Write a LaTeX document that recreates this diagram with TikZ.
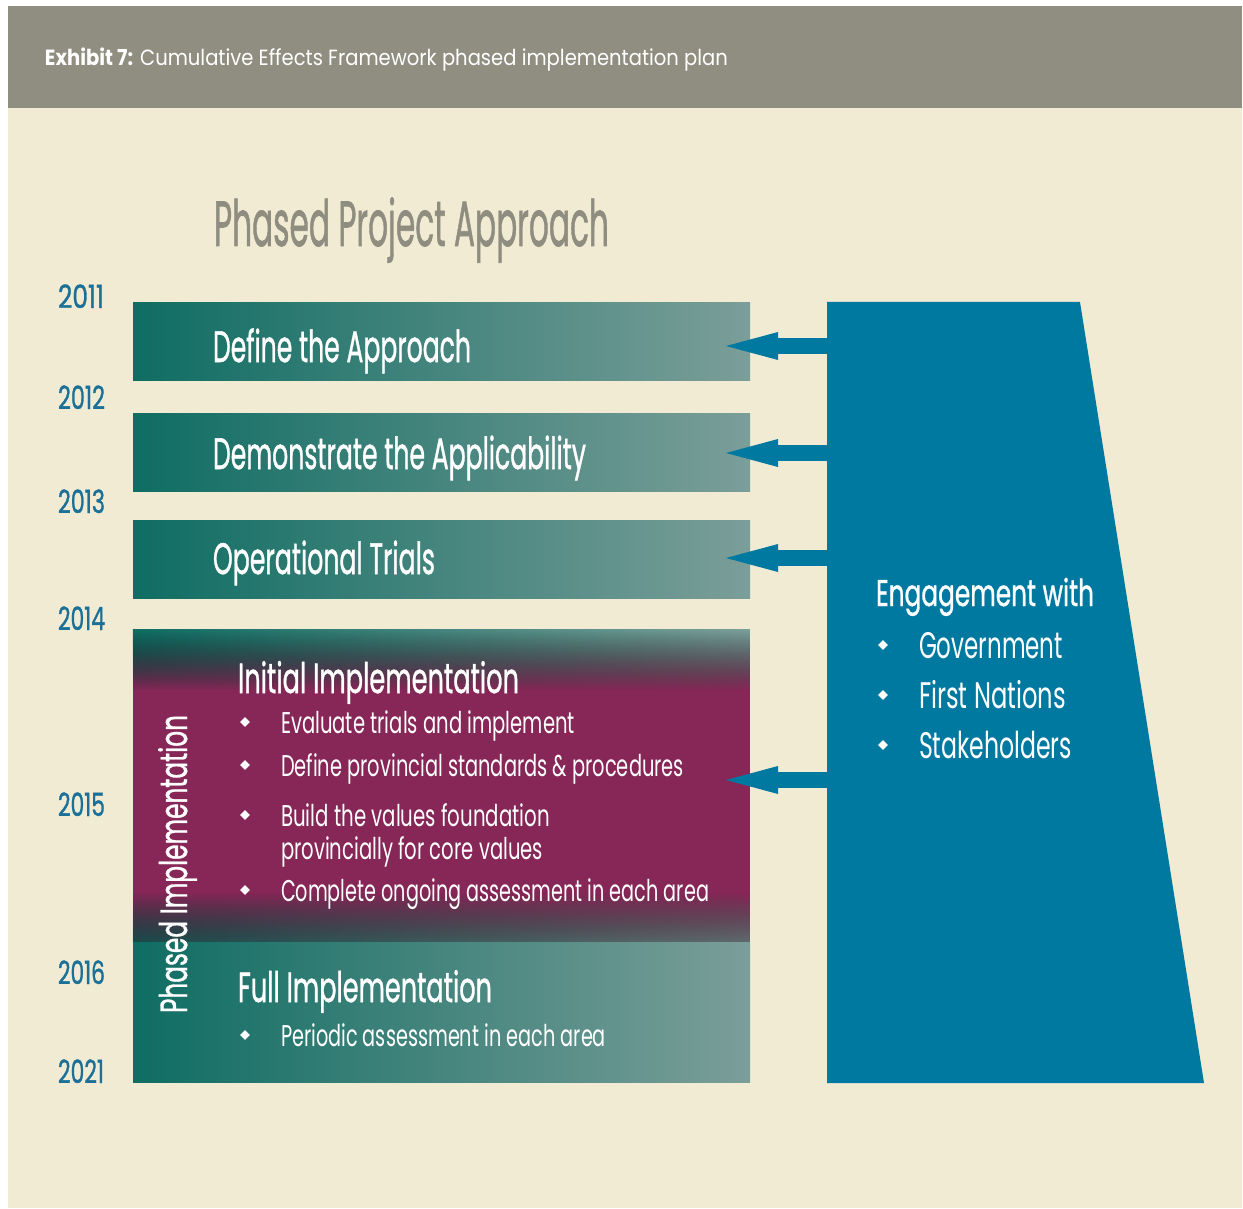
\documentclass[tikz,border=0pt]{standalone}
\usepackage{fontspec}
\setmainfont{Poppins}
\newfontfamily\medfont{Poppins}[FakeBold=1.2]
\usepackage{graphicx}
\usetikzlibrary{arrows.meta,shapes.geometric,fadings}

\definecolor{hdrgray}{HTML}{8F8E80}
\definecolor{beige}{HTML}{F2EBD4}
\definecolor{titlegray}{HTML}{8E8D80}
\definecolor{yearblue}{HTML}{1A7096}
\definecolor{tealdark}{HTML}{0F6D63}
\definecolor{teallight}{HTML}{7B9E99}
\definecolor{plum}{HTML}{862757}
\definecolor{engblue}{HTML}{0079A1}

\tikzfading[name=fadetop, top color=transparent!0, bottom color=transparent!100]
\tikzfading[name=fadebot, top color=transparent!100, bottom color=transparent!35]

\newsavebox\fitbox
\newcommand\fitw[2]{\sbox\fitbox{#2}\pgfmathsetmacro\fitfac{#1/\the\wd\fitbox}\scalebox{\fitfac}[1]{\usebox\fitbox}}

\begin{document}
\begin{tikzpicture}[x=1pt,y=-1pt,
  txt/.style={inner sep=0pt, outer sep=0pt, anchor=base west, text=white},
  yr/.style={txt, text=yearblue, font=\medfont\fontsize{32}{36}\selectfont},
  barbox/.style={anchor=north west, inner sep=0pt, minimum width=617pt, minimum height=78pt, left color=tealdark, right color=teallight, draw=none},
  barhead/.style={txt, font=\medfont\fontsize{44}{50}\selectfont},
  subhead/.style={txt, font=\medfont\fontsize{42}{48}\selectfont},
  item/.style={txt, font=\fontsize{30}{34}\selectfont},
  engitem/.style={txt, font=\fontsize{37}{42}\selectfont},
  bul/.style={diamond, fill=white, inner sep=0pt, minimum size=10pt},
  arr/.style={draw=engblue, line width=16pt, -{Triangle[length=52pt,width=28pt,line width=0pt]}}
]
\useasboundingbox (0,0) rectangle (1243,1209);
\fill[white] (0,0) rectangle (1243,1209);
\fill[hdrgray] (8,6) rectangle (1242,108);
\fill[beige] (8,108) rectangle (1242,1208);

% header and title
\node[txt, font=\fontsize{22}{26}\selectfont] (hdr) at (45,66) {\fitw{683}{\textbf{Exhibit 7:} Cumulative Effects Framework phased implementation plan}};
\node[txt, text=titlegray, font=\medfont\fontsize{64}{70}\selectfont] (title) at (214,246) {\fitw{395}{Phased Project Approach}};

% years
\node[yr] (y2011) at (58,308) {\fitw{46}{2011}};
\node[yr] (y2012) at (58,409) {\fitw{47}{2012}};
\node[yr] (y2013) at (58,513) {\fitw{47}{2013}};
\node[yr] (y2014) at (58,630) {\fitw{47}{2014}};
\node[yr] (y2015) at (58,816) {\fitw{47}{2015}};
\node[yr] (y2016) at (58,984) {\fitw{47}{2016}};
\node[yr] (y2021) at (58,1083) {\fitw{46}{2021}};

% phase bars
\node[barbox] (b1) at (133,302) {};
\node[barbox] (b2) at (133,413) {};
\node[barbox] (b3) at (133,520) {};
\node[anchor=north west, inner sep=0pt, minimum width=617pt, minimum height=312pt, fill=plum] (ibox) at (133,630) {};
\fill[left color=tealdark, right color=teallight, path fading=fadetop] (ibox.north west) rectangle ([yshift=-60pt]ibox.north east);
\fill[left color=tealdark, right color=teallight, path fading=fadebot] ([yshift=50pt]ibox.south west) rectangle (ibox.south east);
\node[barbox, minimum height=140pt] (fbox) at (133,942) {};

% engagement shape
\fill[engblue] (827,302) -- (1080,302) -- (1204,1083) -- (827,1083) -- cycle;
\coordinate (e1) at (829,346);
\coordinate (e2) at (829,453);
\coordinate (e3) at (829,558);
\coordinate (e4) at (829,780);
\coordinate (p1) at (726,346);
\coordinate (p2) at (726,453);
\coordinate (p3) at (726,558);
\coordinate (p4) at (726,780);
\draw[arr] (e1) -- (p1);
\draw[arr] (e2) -- (p2);
\draw[arr] (e3) -- (p3);
\draw[arr] (e4) -- (p4);

% bar texts
\node[barhead] (t1) at (213,362) {\fitw{258}{Define the Approach}};
\node[barhead] (t2) at (213,469) {\fitw{373}{Demonstrate the Applicability}};
\node[barhead] (t3) at (213,574) {\fitw{222}{Operational Trials}};

\node[subhead] (ii) at (238,693) {\fitw{281}{Initial Implementation}};
\node[bul] (d1) at (245,722) {};
\node[item] (i1) at (281,733) {\fitw{294}{Evaluate trials and implement}};
\node[bul] (d2) at (245,765) {};
\node[item] (i2) at (281,776) {\fitw{403}{Define provincial standards \& procedures}};
\node[bul] (d3) at (245,815) {};
\node[item] (i3) at (281,826) {\fitw{269}{Build the values foundation}};
\node[item] (i3b) at (281,859) {\fitw{262}{provincially for core values}};
\node[bul] (d4) at (245,890) {};
\node[item] (i4) at (281,901) {\fitw{428}{Complete ongoing assessment in each area}};

\node[subhead] (fi) at (238,1002) {\fitw{254}{Full Implementation}};
\node[bul] (d5) at (245,1035) {};
\node[item] (f1) at (281,1046) {\fitw{325}{Periodic assessment in each area}};

\node[txt, rotate=90, font=\medfont\fontsize{38}{42}\selectfont] (phi) at (187,1013) {\fitw{298}{Phased Implementation}};

% engagement text
\node[engitem, font=\medfont\fontsize{37}{42}\selectfont] (eng) at (876,606) {\fitw{218}{Engagement with}};
\node[bul] (g1) at (883,645) {};
\node[engitem] (gov) at (919,658) {\fitw{144}{Government}};
\node[bul] (g2) at (883,695) {};
\node[engitem] (fn) at (919,708) {\fitw{147}{First Nations}};
\node[bul] (g3) at (883,745) {};
\node[engitem] (sh) at (919,758) {\fitw{153}{Stakeholders}};
\end{tikzpicture}
\end{document}
